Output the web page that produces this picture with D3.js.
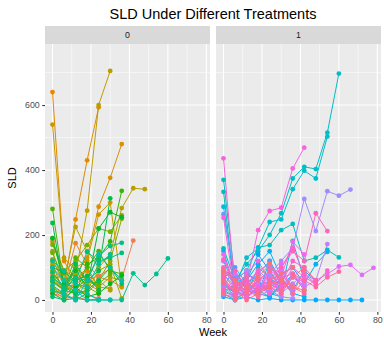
<!DOCTYPE html>
<html><head><meta charset="utf-8">
<script src="https://cdn.jsdelivr.net/npm/d3@7"></script>
<style>body{margin:0;background:#fff}svg{display:block}text{font-family:"Liberation Sans",Arial,Helvetica,sans-serif}</style>
</head><body><svg id="c" width="384" height="339"></svg>
<script>
const titleText = "SLD Under Different Treatments";
const xLabel = "Week";
const yLabel = "SLD";
const treatments = ["0", "1"];
const visitWeeks = [0, 6, 12, 18, 24, 30, 36, 42, 48, 54, 60, 66, 72, 78];
const xTicks = [0, 20, 40, 60, 80];
const yTicks = [0, 200, 400, 600];
// SLD per patient, one value per visit week (from week 0 on), treatment 0
const sldTrt0 = [
  [20, 10, 30, 15, 5],
  [60, 30, 50, 70, 40],
  [100, 50, 40, 60, 75, 95, 65, 183],
  [30, 5, 10, 0, 2],
  [80, 40, 175, 110, 70, 60, 40],
  [640, 120, 60, 90, 40],
  [60, 40, 248, 430, 593],
  [120, 60, 80, 130, 287, 376, 480],
  [40, 20, 60, 100, 40, 35],
  [180, 90, 70, 50, 30],
  [70, 30, 100, 120, 263, 300, 40],
  [540, 130, 90, 60, 45],
  [110, 20, 80, 275, 600, 705],
  [190, 60, 225, 150, 100, 140, 283, 344, 341],
  [150, 40, 30, 20, 60, 30],
  [90, 30, 20, 60, 40, 70, 60],
  [60, 80, 10, 30, 90, 110, 5],
  [125, 50, 70, 40, 20],
  [40, 10, 50, 30, 60, 120, 250],
  [170, 90, 120, 169, 220, 210, 260],
  [145, 60, 30, 70, 40],
  [30, 20, 100, 60, 50, 80],
  [280, 40, 130, 100, 150, 90, 80],
  [55, 30, 20, 110, 130, 180, 336],
  [20, 0, 40, 10, 20, 50, 75],
  [190, 50, 90, 40, 220, 270, 255],
  [100, 85, 60, 75, 30],
  [237, 30, 110, 60, 90, 313],
  [70, 40, 20, 30, 60, 100, 50],
  [10, 0, 5, 0, 0],
  [85, 40, 60, 148, 120, 130, 145],
  [60, 30, 70, 60, 135, 166, 176],
  [30, 15, 0, 20, 0, 0, 0, 82, 46, 80, 128],
  [120, 90, 50, 40, 110, 140],
  [45, 20, 0, 60, 140, 100, 60],
  [100, 60, 30, 0, 0, 0]
];
// treatment 1
const sldTrt1 = [
  [333, 20, 50, 30, 10, 40],
  [159, 60, 90, 162, 169, 215, 234, 120, 130, 154, 131],
  [370, 60, 110, 150, 200, 267, 374, 410, 403, 515, 697],
  [120, 40, 130, 160, 240, 248, 341, 398, 374, 503],
  [30, 10, 80, 60, 20, 40],
  [60, 5, 20, 100, 70, 30, 182, 60],
  [287, 40, 80, 60, 20, 10],
  [90, 70, 40, 20, 120, 60, 30, 90, 60],
  [20, 50, 60, 110, 150, 70, 20, 10],
  [151, 30, 10, 40, 60, 80, 100, 50, 110, 148],
  [10, 0, 30, 50, 40, 60, 20],
  [20, 0, 10, 0, 5, 0, 0, 0, 0, 0, 0, 0, 0],
  [50, 20, 60, 140, 90, 40, 80, 30],
  [70, 90, 30, 20, 10, 50],
  [40, 100, 50, 80, 120, 40],
  [264, 70, 20, 50, 30],
  [15, 10, 40, 90, 60, 20, 70, 40],
  [80, 30, 60, 20, 100, 70],
  [40, 10, 30, 60, 80, 120, 160, 311, 212, 335, 321, 340],
  [100, 40, 20, 60, 30, 10, 5],
  [30, 60, 90, 40, 70, 20, 50, 80, 60, 172],
  [60, 20, 40, 10, 30, 60, 30],
  [120, 80, 30, 50, 20, 90, 40],
  [25, 10, 5, 40, 60, 30, 80, 50],
  [60, 20, 40, 30, 50, 70, 80, 40, 60, 80, 103, 108, 77, 99],
  [90, 50, 10, 30, 60, 110, 20, 60],
  [140, 40, 60, 20, 90, 70, 180, 140],
  [50, 30, 80, 120, 60, 40, 100, 70, 50],
  [253, 20, 50, 215, 274, 284, 405, 469],
  [436, 30, 10, 40, 20, 60],
  [99, 60, 20, 70, 40, 100, 160, 80, 50, 90],
  [70, 20, 50, 90, 110, 50, 120, 100],
  [125, 50, 30, 80, 60, 100, 150, 120, 267, 212],
  [30, 40, 60, 20, 50, 30],
  [80, 90, 40, 20, 60, 80, 40, 20],
  [50, 10, 70, 30, 40, 20, 80, 60, 40, 70, 87],
  [80, 40, 20, 60, 90, 30, 70, 100, 60],
  [20, 0, 30, 10, 50, 60, 20, 90],
  [60, 30, 0, 20, 40, 80, 100],
  [90, 60, 40, 70, 110, 60, 40, 30]
];

const patients = [];
[sldTrt0, sldTrt1].forEach((arr, t) => arr.forEach(vals => {
  patients.push({trt: treatments[t], pts: vals.map((v, k) => ({week: visitWeeks[k], sld: v}))});
}));
const N = patients.length;

// polar LUV (as used by R's hcl()) -> sRGB
function hclLuv(h, c, l) {
  const Xn = 95.047, Yn = 100, Zn = 108.883;
  const un = 4 * Xn / (Xn + 15 * Yn + 3 * Zn), vn = 9 * Yn / (Xn + 15 * Yn + 3 * Zn);
  const hr = h * Math.PI / 180;
  const u = c * Math.cos(hr), v = c * Math.sin(hr);
  const Y = l > 8 ? Yn * Math.pow((l + 16) / 116, 3) : Yn * l / 903.3;
  const up = u / (13 * l) + un, vp = v / (13 * l) + vn;
  const X = Y * 9 * up / (4 * vp), Z = Y * (12 - 3 * up - 20 * vp) / (4 * vp);
  const x = X / 100, y = Y / 100, z = Z / 100;
  let r = 3.2404542 * x - 1.5371385 * y - 0.4985314 * z;
  let g = -0.9692660 * x + 1.8760108 * y + 0.0415560 * z;
  let b = 0.0556434 * x - 0.2040259 * y + 1.0572252 * z;
  const gam = t => { t = Math.max(0, Math.min(1, t)); return t <= 0.0031308 ? 12.92 * t : 1.055 * Math.pow(t, 1 / 2.4) - 0.055; };
  return d3.rgb(gam(r) * 255, gam(g) * 255, gam(b) * 255).formatHex();
}
patients.forEach((p, i) => p.color = hclLuv(15 + 360 * i / N, 100, 65));

const svg = d3.select("#c");
const topY = 44, bottomY = 312;
const panels = [{x0: 45, x1: 210}, {x0: 216, x1: 381}];
const y = d3.scaleLinear().domain([-37, 788]).range([bottomY, topY]);

svg.append("text").attr("x", 213).attr("y", 19).attr("text-anchor", "middle")
  .attr("font-size", 14.5).attr("fill", "#000").text(titleText);

panels.forEach((pn, pi) => {
  const x = d3.scaleLinear().domain([-3.9, 81.9]).range([pn.x0, pn.x1]);
  const g = svg.append("g");
  g.append("rect").attr("x", pn.x0).attr("y", 26).attr("width", pn.x1 - pn.x0).attr("height", 18).attr("fill", "#D9D9D9");
  g.append("text").attr("x", (pn.x0 + pn.x1) / 2).attr("y", 38).attr("text-anchor", "middle")
    .attr("font-size", 8.8).attr("fill", "#1A1A1A").text(treatments[pi]);
  g.append("rect").attr("x", pn.x0).attr("y", topY).attr("width", pn.x1 - pn.x0).attr("height", bottomY - topY).attr("fill", "#EBEBEB");
  [10, 30, 50, 70].forEach(v => g.append("line").attr("x1", x(v)).attr("x2", x(v)).attr("y1", topY).attr("y2", bottomY).attr("stroke", "#fff").attr("stroke-width", 0.53));
  [100, 300, 500, 700].forEach(v => g.append("line").attr("y1", y(v)).attr("y2", y(v)).attr("x1", pn.x0).attr("x2", pn.x1).attr("stroke", "#fff").attr("stroke-width", 0.53));
  xTicks.forEach(v => g.append("line").attr("x1", x(v)).attr("x2", x(v)).attr("y1", topY).attr("y2", bottomY).attr("stroke", "#fff").attr("stroke-width", 1.07));
  yTicks.forEach(v => g.append("line").attr("y1", y(v)).attr("y2", y(v)).attr("x1", pn.x0).attr("x2", pn.x1).attr("stroke", "#fff").attr("stroke-width", 1.07));
  const xa = g.append("g").attr("transform", `translate(0,${bottomY})`)
    .call(d3.axisBottom(x).tickValues(xTicks).tickSize(2.75).tickPadding(2.5));
  xa.select(".domain").remove();
  xa.selectAll("line").attr("stroke", "#333").attr("stroke-width", 1.07);
  xa.selectAll("text").attr("font-size", 8.8).attr("fill", "#4D4D4D").attr("font-family", null);
  if (pi === 0) {
    const ya = g.append("g").attr("transform", `translate(${pn.x0},0)`)
      .call(d3.axisLeft(y).tickValues(yTicks).tickSize(2.75).tickPadding(2.5));
    ya.select(".domain").remove();
    ya.selectAll("line").attr("stroke", "#333").attr("stroke-width", 1.07);
    ya.selectAll("text").attr("font-size", 8.8).attr("fill", "#4D4D4D").attr("font-family", null);
  }
  const clip = "clip" + pi;
  svg.append("clipPath").attr("id", clip).append("rect").attr("x", pn.x0).attr("y", topY).attr("width", pn.x1 - pn.x0).attr("height", bottomY - topY);
  const data = patients.filter(p => p.trt === treatments[pi]);
  const line = d3.line().x(d => x(d.week)).y(d => y(d.sld));
  const dg = g.append("g").attr("clip-path", `url(#${clip})`);
  data.forEach(p => dg.append("path").attr("d", line(p.pts)).attr("fill", "none").attr("stroke", p.color).attr("stroke-width", 1.0));
  data.forEach(p => dg.selectAll(null).data(p.pts).enter().append("circle")
    .attr("cx", d => x(d.week)).attr("cy", d => y(d.sld)).attr("r", 2.4).attr("fill", p.color));
});

svg.append("text").attr("x", 213).attr("y", 336).attr("text-anchor", "middle").attr("font-size", 11).attr("fill", "#000").text(xLabel);
svg.append("text").attr("transform", "translate(16,178) rotate(-90)").attr("text-anchor", "middle").attr("font-size", 11).attr("fill", "#000").text(yLabel);
</script></body></html>
